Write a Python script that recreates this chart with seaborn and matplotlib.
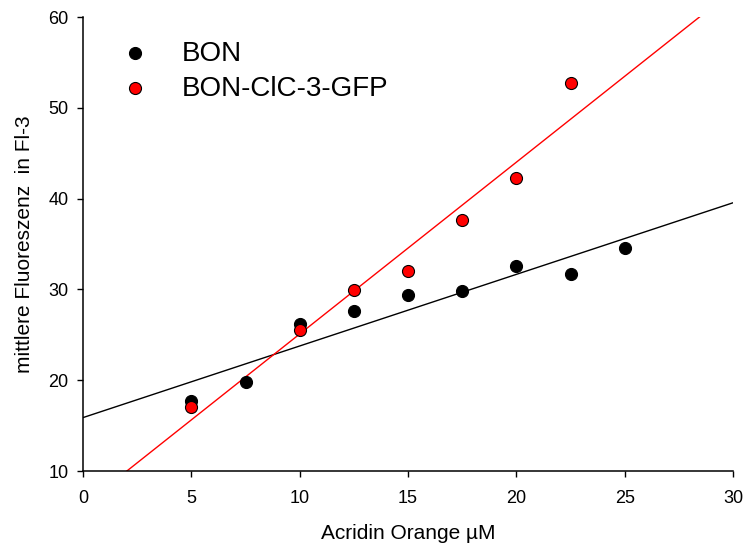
import matplotlib
matplotlib.use("Agg")
import matplotlib.pyplot as plt
import seaborn as sns
import pandas as pd

sns.set_style("ticks")
plt.rcParams["font.family"] = ["Liberation Sans", "DejaVu Sans"]
plt.rcParams.update({
    "text.color": "black",
    "axes.labelcolor": "black",
    "xtick.color": "black",
    "ytick.color": "black",
})

# Acridine orange concentration (µM) and mean fluorescence in FL-3
bon_conc = [5, 7.5, 10, 12.5, 15, 17.5, 20, 22.5, 25]
bon_fluor = [17.7, 19.8, 26.2, 27.6, 29.4, 29.8, 32.6, 31.7, 34.6]

clc_conc = [5, 10, 12.5, 15, 17.5, 20, 22.5]
clc_fluor = [17.1, 25.5, 29.9, 32.0, 37.6, 42.3, 52.7]

x_ticks = [0, 5, 10, 15, 20, 25, 30]
y_ticks = [10, 20, 30, 40, 50, 60]

bon = pd.DataFrame({"conc": bon_conc, "fluor": bon_fluor})
clc = pd.DataFrame({"conc": clc_conc, "fluor": clc_fluor})

fig = plt.figure(figsize=(7.44, 5.49), dpi=100)
ax = fig.add_axes([83 / 744, 1 - 471 / 549, 650 / 744, 454 / 549])
ax.set_xlim(0, 30)
ax.set_ylim(10, 60)

# regression lines span the full x range and get clipped at the y limits
sns.regplot(data=bon, x="conc", y="fluor", ax=ax, ci=None, truncate=False,
            color="black", label="BON",
            scatter_kws=dict(s=75, facecolor="black", edgecolor="black",
                             linewidths=0.8, alpha=1, zorder=3, clip_on=False),
            line_kws=dict(color="black", lw=1.0, zorder=2))
sns.regplot(data=clc, x="conc", y="fluor", ax=ax, ci=None, truncate=False,
            color="red", label="BON-ClC-3-GFP",
            scatter_kws=dict(s=75, facecolor="red", edgecolor="black",
                             linewidths=0.8, alpha=1, zorder=4, clip_on=False),
            line_kws=dict(color="red", lw=1.0, zorder=2))

ax.set_xlim(0, 30)
ax.set_ylim(10, 60)
ax.set_xticks(x_ticks)
ax.set_yticks(y_ticks)
ax.tick_params(axis="both", direction="out", length=4.5, width=1, labelsize=13)
ax.tick_params(axis="x", pad=9.5)
ax.tick_params(axis="y", pad=6)
for side in ("left", "bottom"):
    ax.spines[side].set_linewidth(1.1)
    ax.spines[side].set_color("black")
sns.despine(ax=ax)

ax.set_xlabel("Acridin Orange µM", fontsize=15, labelpad=12)
ax.set_ylabel("mittlere Fluoreszenz  in Fl-3", fontsize=15, labelpad=10)

handles = ax.collections[:2]
ax.legend(handles=handles, labels=["BON", "BON-ClC-3-GFP"],
          loc="upper left", bbox_to_anchor=(0.02, 1.003), frameon=False,
          fontsize=20, markerscale=1.0, handletextpad=1.2,
          labelspacing=0.32, handlelength=1.0)

fig.savefig("out.png", dpi=100)
